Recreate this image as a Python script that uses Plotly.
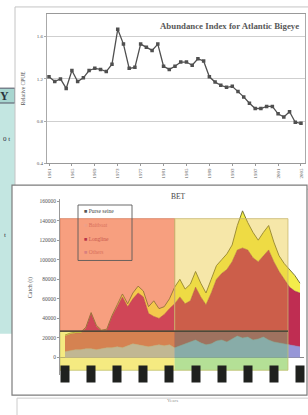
import plotly.graph_objects as go

# ---------------- data: top chart (abundance index) ----------------
cpue_years = list(range(1961, 2006))
cpue_values = [1.22, 1.175, 1.20, 1.11, 1.28, 1.175, 1.21, 1.28, 1.30, 1.29,
               1.27, 1.34, 1.67, 1.53, 1.30, 1.31, 1.53, 1.50, 1.47, 1.53,
               1.32, 1.29, 1.32, 1.36, 1.36, 1.33, 1.39, 1.37, 1.22, 1.17,
               1.14, 1.12, 1.13, 1.08, 1.03, 0.97, 0.92, 0.92, 0.94, 0.94,
               0.87, 0.84, 0.89, 0.79, 0.78]
cpue_ticks = [0.4, 0.8, 1.2, 1.6]
cpue_tick_years = cpue_years[::4]

# ---------------- data: bottom chart (BET catches, t) ----------------
catch_years = list(range(1960, 2006))
catch_baitboat = [6000, 7000, 8000, 8000, 9000, 9000, 8000, 9000, 10000, 10000,
                  11000, 10000, 12000, 14000, 13000, 12000, 11000, 12000, 13000, 12000,
                  13000, 10000, 12000, 14000, 16000, 18000, 15000, 13000, 14000, 17000,
                  18000, 16000, 19000, 22000, 20000, 21000, 18000, 19000, 21000, 18000,
                  16000, 15000, 14000, 13000, 12000, 11000]
catch_longline = [16000, 17000, 17000, 17000, 21000, 36000, 24000, 18000, 18000, 32000,
                  41000, 52000, 40000, 46000, 53000, 50000, 34000, 30000, 27000, 32000,
                  37000, 45000, 50000, 41000, 42000, 54000, 47000, 41000, 52000, 63000,
                  68000, 74000, 79000, 88000, 92000, 89000, 84000, 79000, 83000, 92000,
                  82000, 73000, 66000, 59000, 56000, 55000]
catch_purse = [1000, 1000, 1000, 1000, 1000, 1000, 1000, 1000, 1000, 1000,
               2000, 3000, 3000, 6000, 7000, 6000, 7000, 16000, 10000, 8000,
               10000, 17000, 18000, 15000, 17000, 16000, 14000, 12000, 14000, 14000,
               14000, 16000, 17000, 25000, 38000, 28000, 26000, 22000, 24000, 25000,
               20000, 16000, 16000, 18000, 16000, 10000]
catch_ticks = list(range(0, 160001, 20000))
catch_label_years = list(range(1960, 2006, 5))
legend_labels = ["Purse seine", "Baitboat", "Longline", "Others"]

# regions shaded over the catches
region_start, region_split, region_end = 1959.04, 1981.0, 2002.7
region_low, region_mid, region_high = -13000, 27000, 142000

W, H = 308, 415
def px(x):
    return x / W
def py(y):
    return 1 - y / H

SERIF = "Liberation Serif"
fig = go.Figure()

# top chart
fig.add_trace(go.Scatter(
    x=cpue_years, y=cpue_values, mode="lines+markers",
    line=dict(color="#505050", width=1.3),
    marker=dict(color="#505050", size=3.5, symbol="square"),
    xaxis="x", yaxis="y", showlegend=False, name="CPUE"))

# bottom chart stacked areas
fig.add_trace(go.Scatter(
    x=catch_years, y=catch_baitboat, stackgroup="c", mode="lines",
    line=dict(color="#8080b8", width=0.5),
    fillcolor="rgb(150,150,215)", xaxis="x2", yaxis="y2",
    showlegend=False, name="Baitboat"))
fig.add_trace(go.Scatter(
    x=catch_years, y=catch_longline, stackgroup="c", mode="lines",
    line=dict(color="#8a2040", width=0.5),
    fillcolor="rgb(191,45,82)", xaxis="x2", yaxis="y2",
    showlegend=False, name="Longline"))
fig.add_trace(go.Scatter(
    x=catch_years, y=catch_purse, stackgroup="c", mode="lines",
    line=dict(color="#6b6a2a", width=0.9),
    fillcolor="rgba(242,236,60,0.92)", xaxis="x2", yaxis="y2",
    showlegend=False, name="Purse seine"))

def region(x0, x1, y0, y1, base, over, alpha):
    return [
        dict(type="rect", xref="x2", yref="y2", x0=x0, x1=x1, y0=y0, y1=y1,
             fillcolor=base, line=dict(width=0), layer="below"),
        dict(type="rect", xref="x2", yref="y2", x0=x0, x1=x1, y0=y0, y1=y1,
             fillcolor=over, opacity=alpha, line=dict(width=0), layer="above"),
    ]

shapes = [
    # teal side panel of the slide behind
    dict(type="rect", xref="paper", yref="paper", x0=0, x1=px(15), y0=py(336), y1=py(88),
         fillcolor="#c3e6e1", line=dict(width=0), layer="below"),
    dict(type="rect", xref="paper", yref="paper", x0=-0.01, x1=px(15), y0=py(103), y1=py(88),
         fillcolor="#a8d6d0", line=dict(color="#556", width=1), layer="below"),
    # outer frame of top chart
    dict(type="rect", xref="paper", yref="paper", x0=px(15), x1=px(312), y0=py(190), y1=py(6),
         fillcolor="white", line=dict(color="#c4c4c4", width=1), layer="below"),
    # lower frame
    dict(type="rect", xref="paper", yref="paper", x0=px(17), x1=px(312), y0=py(420), y1=py(401),
         fillcolor="white", line=dict(color="#cccccc", width=1), layer="below"),
    # bottom chart box
    dict(type="rect", xref="paper", yref="paper", x0=px(12), x1=px(307), y0=py(398), y1=py(186),
         fillcolor="white", line=dict(color="#7c7c7c", width=1.2), layer="below"),
]
shapes += region(region_start, region_split, region_mid, region_high,
                 "rgb(247,173,140)", "rgb(250,130,100)", 0.3)
shapes += region(region_split, region_end, region_mid, region_high,
                 "rgb(255,255,228)", "rgb(228,185,60)", 0.35)
shapes += region(region_start, region_split, region_low, region_mid,
                 "rgb(254,252,179)", "rgb(235,215,80)", 0.5)
shapes += region(region_split, region_end, region_low, region_mid,
                 "rgb(229,245,183)", "rgb(120,200,110)", 0.45)
shapes += [
    dict(type="rect", xref="x2", yref="y2", x0=region_start, x1=region_split,
         y0=region_mid, y1=region_high, line=dict(color="#d58060", width=0.8), layer="above"),
    dict(type="rect", xref="x2", yref="y2", x0=region_split, x1=region_end,
         y0=region_mid, y1=region_high, line=dict(color="#c8b870", width=0.8), layer="above"),
    dict(type="rect", xref="x2", yref="y2", x0=region_start, x1=region_end,
         y0=region_low, y1=region_mid, line=dict(color="#c0c070", width=0.8), layer="above"),
    dict(type="line", xref="x2", yref="y2", x0=region_start, x1=region_end,
         y0=region_mid, y1=region_mid, line=dict(color="#2a2a2a", width=1.2), layer="above"),
    # legend box
    dict(type="rect", xref="paper", yref="paper", x0=px(78), x1=px(132), y0=py(262), y1=py(206),
         line=dict(color="#5a5a5a", width=0.9), layer="above"),
]

annotations = [
    dict(x=px(301), y=py(25), xref="paper", yref="paper", xanchor="right", yanchor="middle",
         text="<b>Abundance Index for Atlantic Bigeye</b>", showarrow=False,
         font=dict(family=SERIF, size=8.8, color="#585858")),
    dict(x=px(23), y=py(88), xref="paper", yref="paper", xanchor="center", yanchor="middle",
         text="Relative CPUE", textangle=-90, showarrow=False,
         font=dict(family=SERIF, size=5.5, color="#555")),
    dict(x=px(178), y=py(197), xref="paper", yref="paper", xanchor="center", yanchor="middle",
         text="BET", showarrow=False, font=dict(family=SERIF, size=7.5, color="#444")),
    dict(x=px(30), y=py(290), xref="paper", yref="paper", xanchor="center", yanchor="middle",
         text="Catch (t)", textangle=-90, showarrow=False,
         font=dict(family=SERIF, size=6, color="#555")),
    dict(x=px(172), y=py(403), xref="paper", yref="paper", xanchor="center", yanchor="middle",
         text="Years", showarrow=False, font=dict(family=SERIF, size=5, color="#999")),
    dict(x=px(11), y=py(96), xref="paper", yref="paper", xanchor="right", yanchor="middle",
         text="<b>Y</b>", showarrow=False, font=dict(family=SERIF, size=12, color="#2a3440")),
    dict(x=px(12), y=py(139), xref="paper", yref="paper", xanchor="right", yanchor="middle",
         text="0 t", showarrow=False, font=dict(family=SERIF, size=7, color="#334")),
    dict(x=px(8), y=py(236), xref="paper", yref="paper", xanchor="right", yanchor="middle",
         text="t", showarrow=False, font=dict(family=SERIF, size=7, color="#334")),
]

legend_colors = [("#555555", "#444444"), ("#eea088", "#d8705c"),
                 ("#b83448", "#c8584c"), ("#d88080", "#d8705c")]
legend_rows = [212, 226, 240, 253]
for label, (mc, tc), ry in zip(legend_labels, legend_colors, legend_rows):
    annotations.append(dict(
        x=px(82), y=py(ry), xref="paper", yref="paper", xanchor="left", yanchor="middle",
        text=f"<span style='color:{mc}'>■</span> {label}", showarrow=False,
        font=dict(family=SERIF, size=5.5, color=tc)))

for yr in catch_label_years:
    annotations.append(dict(
        x=yr, y=py(368), xref="x2", yref="paper", xanchor="center", yanchor="top",
        text=" ", width=6, height=14, bgcolor="#1f211e", borderpad=1,
        showarrow=False, font=dict(size=4)))

fig.update_layout(
    width=W, height=H, margin=dict(l=0, r=0, t=0, b=0, pad=0),
    paper_bgcolor="white", plot_bgcolor="rgba(0,0,0,0)",
    font=dict(family=SERIF, color="#555"),
    shapes=shapes, annotations=annotations, showlegend=False,
    xaxis=dict(domain=[px(47), px(305)], range=[1960.65, 2005.7], anchor="y",
               tickvals=cpue_tick_years, ticktext=[str(v) for v in cpue_tick_years],
               tickangle=-90, tickfont=dict(size=5, color="#555"),
               showgrid=False, zeroline=False, showline=True, linecolor="#999",
               mirror=True, ticks="outside", ticklen=2, tickcolor="#999"),
    yaxis=dict(domain=[py(164), py(13)], range=[0.4, 1.816], anchor="x",
               tickvals=cpue_ticks, ticktext=[f"{v:.1f}" for v in cpue_ticks],
               tickfont=dict(size=5, color="#555"), showgrid=True, gridcolor="#cfcfcf",
               gridwidth=1.2, zeroline=False, showline=True, linecolor="#aaa", mirror=True,
               ticks="outside", ticklen=2, tickcolor="#aaa"),
    xaxis2=dict(domain=[px(60), px(304)], range=[1959.04, 2005.77], anchor="y2",
                showticklabels=False, showgrid=False, zeroline=False, showline=False),
    yaxis2=dict(domain=[py(378), py(200)], range=[-18228, 162025], anchor="x2",
                tickvals=catch_ticks, ticktext=[str(v) for v in catch_ticks],
                tickfont=dict(size=5.5, color="#555"), showgrid=False,
                zeroline=True, zerolinecolor="#888", zerolinewidth=0.8,
                showline=True, linecolor="#999", ticks="outside", ticklen=2, tickcolor="#999"),
)

fig.write_html("out.html", config={"displayModeBar": False},
               post_script="document.body.style.margin='0';document.body.style.overflow='hidden';")
